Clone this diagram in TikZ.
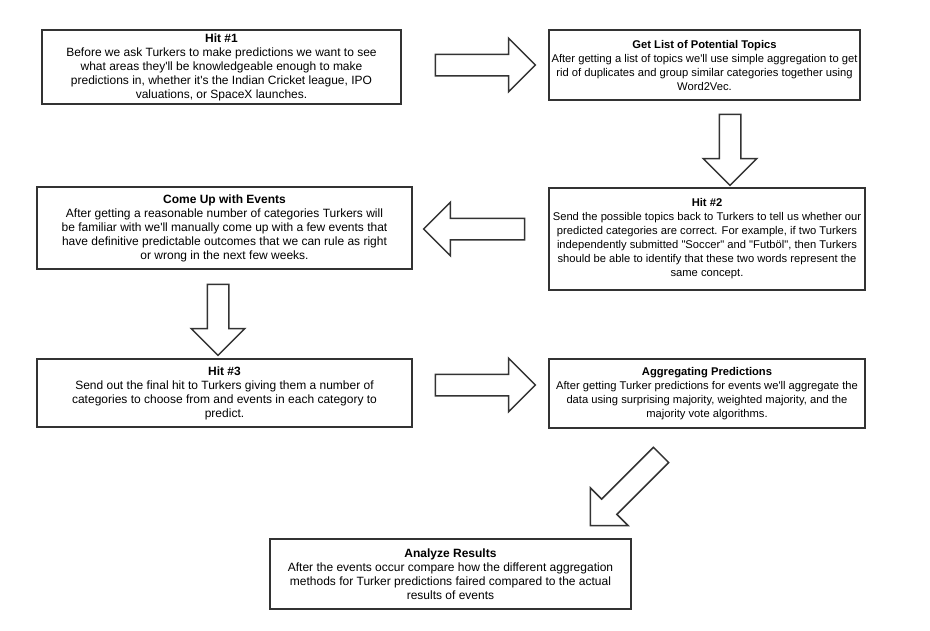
\documentclass[tikz,border=0pt]{standalone}
\usepackage{fontspec}
\setmainfont{Liberation Sans}[Ligatures=TeXOff]
\usetikzlibrary{shapes.arrows}
\definecolor{ink}{HTML}{333333}
\tikzset{
  stepbox/.style={draw=ink, line width=1.5pt, fill=white, rectangle,
    inner sep=0pt, align=center, text=black,
    font=\fontsize{12}{14}\selectfont},
  narrowtext/.style={font=\fontsize{11.2}{14}\selectfont},
  blockarrow/.style={draw=ink, line width=1.5pt, fill=white, single arrow,
    inner xsep=0pt, inner ysep=10pt, single arrow head extend=16pt,
    single arrow tip angle=90, minimum height=#1, anchor=center},
}
\newcommand{\boxtitle}[1]{\textbf{#1}}
\begin{document}
\begin{tikzpicture}[x=1pt, y=-1pt]
  \useasboundingbox[fill=white] (0,0) rectangle (930,630);

  % process steps
  \node[stepbox, minimum width=359pt, minimum height=74pt] (hit1) at (221.5,67)
    {\boxtitle{Hit \#1}\\
     Before we ask Turkers to make predictions we want to see\\
     what areas they'll be knowledgeable enough to make\\
     predictions in, whether it's the Indian Cricket league, IPO\\
     valuations, or SpaceX launches.};
  \node[stepbox, narrowtext, minimum width=311pt, minimum height=70pt] (topics) at (704.5,65)
    {\boxtitle{Get List of Potential Topics}\\
     After getting a list of topics we'll use simple aggregation to get\\
     rid of duplicates and group similar categories together using\\
     Word2Vec.};
  \node[stepbox, narrowtext, minimum width=316pt, minimum height=102pt] (hit2) at (707,239)
    {\boxtitle{Hit \#2}\\
     Send the possible topics back to Turkers to tell us whether our\\
     predicted categories are correct. For example, if two Turkers\\
     independently submitted "Soccer" and "Futböl", then Turkers\\
     should be able to identify that these two words represent the\\
     same concept.};
  \node[stepbox, minimum width=375pt, minimum height=82pt] (events) at (224.5,228)
    {\boxtitle{Come Up with Events}\\
     After getting a reasonable number of categories Turkers will\\
     be familiar with we'll manually come up with a few events that\\
     have definitive predictable outcomes that we can rule as right\\
     or wrong in the next few weeks.};
  \node[stepbox, minimum width=375pt, minimum height=68pt] (hit3) at (224.5,393)
    {\boxtitle{Hit \#3}\\
     Send out the final hit to Turkers giving them a number of\\
     categories to choose from and events in each category to\\
     predict.};
  \node[stepbox, narrowtext, minimum width=316pt, minimum height=69pt] (aggr) at (707,393.5)
    {\boxtitle{Aggregating Predictions}\\
     After getting Turker predictions for events we'll aggregate the\\
     data using surprising majority, weighted majority, and the\\
     majority vote algorithms.};
  \node[stepbox, minimum width=361pt, minimum height=70pt] (results) at (450.5,574)
    {\boxtitle{Analyze Results}\\
     After the events occur compare how the different aggregation\\
     methods for Turker predictions faired compared to the actual\\
     results of events};

  % block arrows between the steps
  \node[blockarrow=100pt] (a1) at (480,65) {};
  \node[blockarrow=71pt, rotate=-90] (a2) at (730,144.5) {};
  \node[blockarrow=101pt, rotate=180] (a3) at (479.5,229) {};
  \node[blockarrow=71pt, rotate=-90] (a4) at (218,314.5) {};
  \node[blockarrow=100pt] (a5) at (480,385) {};
  \node[blockarrow=100pt, rotate=-135] (a6) at (629.5,486.5) {};
\end{tikzpicture}
\end{document}
